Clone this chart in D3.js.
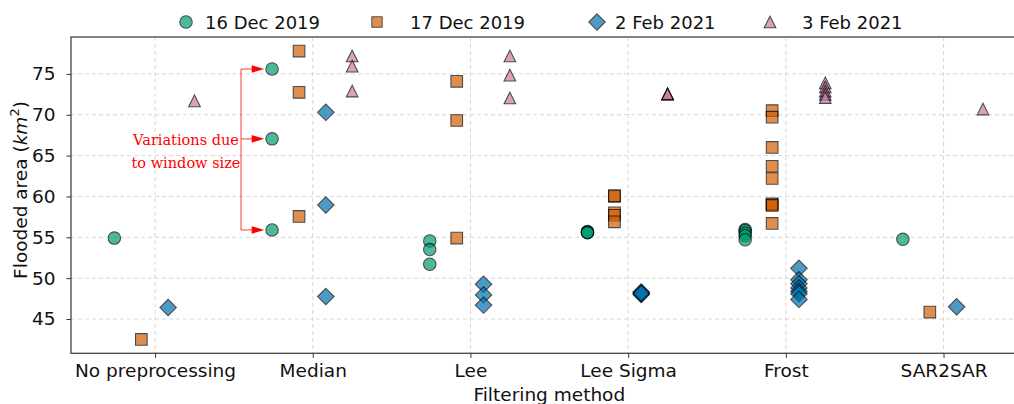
<!DOCTYPE html>
<html>
<head>
<meta charset="utf-8">
<script src="https://cdn.jsdelivr.net/npm/d3@7"></script>
<style>
  html, body { margin: 0; padding: 0; background: #fff; }
  svg { display: block; }
</style>
</head>
<body>
<div id="chart"></div>
<script>
// ---------- data ----------
const categories = ["No preprocessing", "Median", "Lee", "Lee Sigma", "Frost", "SAR2SAR"];
const seriesNames = ["16 Dec 2019", "17 Dec 2019", "2 Feb 2021", "3 Feb 2021"];
const seriesColors = ["#009E73", "#D55E00", "#0072B2", "#CC79A7"];
const seriesShapes = ["circle", "square", "diamond", "triangle"];
const seriesOffsets = [-0.258, -0.087, 0.083, 0.25];

// values per category (one array per category)
const dec16 = [
  [54.9],
  [75.6, 67.05, 55.9],
  [54.55, 53.5, 51.7],
  [55.6, 55.7, 55.65, 55.55],
  [55.95, 55.8, 55.5, 55.2, 54.7],
  [54.75]
];
const dec17 = [
  [42.5],
  [77.8, 72.75, 57.55],
  [74.1, 69.3, 54.9],
  [60.0, 60.1, 58.0, 57.7, 56.9],
  [70.5, 69.7, 66.0, 63.7, 62.2, 59.0, 59.1, 58.9, 56.7],
  [45.85]
];
const feb2 = [
  [46.4],
  [70.3, 58.95, 47.75],
  [49.25, 47.95, 46.7],
  [48.0, 48.2, 48.3, 48.1],
  [51.2, 49.8, 49.3, 48.8, 48.4, 48.1, 47.4],
  [46.5]
];
const feb3 = [
  [71.7],
  [77.2, 75.95, 72.9],
  [77.2, 74.85, 72.05],
  [72.5, 72.6, 72.55],
  [73.9, 73.4, 72.9, 72.5, 72.1],
  [70.7]
];
const seriesValues = [dec16, dec17, feb2, feb3];
const yTicks = [45, 50, 55, 60, 65, 70, 75];
const annotationLines = ["Variations due", "to window size"];

// ---------- layout ----------
const W = 1014, H = 404;
const plotLeft = 71, plotTop = 37, plotBottom = 353.3, plotRight = 1027.6;
const FS = 18.5;
const SANS = "'DejaVu Sans', sans-serif";

const svg = d3.select("#chart").append("svg")
  .attr("width", W).attr("height", H)
  .attr("viewBox", `0 0 ${W} ${H}`);

const x = d3.scaleLinear().domain([-0.533, 5.533]).range([plotLeft, plotRight]);
const y = d3.scaleLinear().domain([40.8, 79.52]).range([plotBottom, plotTop]);

// grid
const grid = svg.append("g");
grid.selectAll("line.gx").data(d3.range(categories.length)).join("line")
  .attr("x1", d => x(d)).attr("x2", d => x(d))
  .attr("y1", plotTop).attr("y2", plotBottom)
  .attr("stroke", "#d3d3d3").attr("stroke-width", 0.9).attr("stroke-dasharray", "4,3");
grid.selectAll("line.gy").data(yTicks).join("line")
  .attr("x1", plotLeft).attr("x2", W)
  .attr("y1", d => y(d)).attr("y2", d => y(d))
  .attr("stroke", "#d3d3d3").attr("stroke-width", 0.9).attr("stroke-dasharray", "4,3");

// axes
const xAxis = d3.axisBottom(x).tickValues(d3.range(categories.length))
  .tickFormat(i => categories[i]).tickSize(4.5).tickPadding(6).tickSizeOuter(0);
const gx = svg.append("g").attr("transform", `translate(0,${plotBottom})`).call(xAxis);
const yAxis = d3.axisLeft(y).tickValues(yTicks).tickSize(4.5).tickPadding(11).tickSizeOuter(0);
const gy = svg.append("g").attr("transform", `translate(${plotLeft},0)`).call(yAxis);
[gx, gy].forEach(g => {
  g.attr("font-size", null).attr("font-family", null);
  g.select(".domain").remove();
  g.selectAll(".tick line").attr("stroke", "#333").attr("stroke-width", 1);
  g.selectAll(".tick text").style("font-size", FS + "px").attr("fill", "#111")
    .style("font-family", SANS);
});

// frame (spines)
svg.append("rect")
  .attr("x", plotLeft).attr("y", plotTop)
  .attr("width", plotRight - plotLeft).attr("height", plotBottom - plotTop)
  .attr("fill", "none").attr("stroke", "#444").attr("stroke-width", 1.3);

// axis titles
svg.append("text").attr("x", x(2.5)).attr("y", 401)
  .attr("text-anchor", "middle").style("font-size", FS + "px").style("font-family", SANS)
  .attr("fill", "#111").text("Filtering method");

const yl = svg.append("text")
  .attr("transform", `translate(27,${190}) rotate(-90)`)
  .attr("text-anchor", "middle").style("font-size", FS + "px").style("font-family", SANS)
  .attr("fill", "#111");
yl.append("tspan").text("Flooded area (");
yl.append("tspan").attr("font-style", "italic").text("km");
yl.append("tspan").style("font-size", "13px").attr("dy", -8).text("2");
yl.append("tspan").attr("dy", 8).text(")");

// marker paths
function markerPath(shape) {
  if (shape === "circle") return d3.symbol(d3.symbolCircle, Math.PI * 6.2 * 6.2)();
  if (shape === "square") { const s = 5.8; return `M${-s},${-s}H${s}V${s}H${-s}Z`; }
  if (shape === "diamond") { const s = 8.2; return `M0,${-s}L${s},0L0,${s}L${-s},0Z`; }
  const h = 5.8; return `M0,${-h}L${h},${h}L${-h},${h}Z`;
}

// points
const pts = [];
seriesValues.forEach((arr, si) => {
  arr.forEach((vals, ci) => {
    vals.forEach(v => pts.push({ si, ci, v }));
  });
});
const plot = svg.append("g");
plot.selectAll("path.pt").data(pts).join("path")
  .attr("class", "pt")
  .attr("d", d => markerPath(seriesShapes[d.si]))
  .attr("transform", d => `translate(${x(d.ci + seriesOffsets[d.si])},${y(d.v)})`)
  .attr("fill", d => seriesColors[d.si])
  .attr("stroke", "#000").attr("stroke-width", 1.1)
  .attr("opacity", 0.7);

// annotation
const ann = svg.append("g");
const medianCircles = dec16[1];
const bx = x(1 - 0.455), tipX = x(1 - 0.308);
ann.append("line")
  .attr("x1", bx).attr("x2", bx)
  .attr("y1", y(d3.max(medianCircles))).attr("y2", y(d3.min(medianCircles)))
  .attr("stroke", "red").attr("stroke-opacity", 0.6).attr("stroke-width", 1.3);
medianCircles.forEach(v => {
  const yy = y(v);
  ann.append("line").attr("x1", bx).attr("x2", tipX - 10).attr("y1", yy).attr("y2", yy)
    .attr("stroke", "red").attr("stroke-opacity", 0.6).attr("stroke-width", 1.3);
  ann.append("path")
    .attr("d", `M${tipX},${yy}L${tipX - 12.5},${yy - 3.8}L${tipX - 12.5},${yy + 3.8}Z`)
    .attr("fill", "red");
});
const at = ann.append("text").attr("text-anchor", "middle")
  .style("font-family", "'DejaVu Serif', serif").style("font-size", "14.5px").attr("fill", "red");
annotationLines.forEach((t, i) => {
  at.append("tspan").attr("x", 186).attr("y", 145 + i * 23).text(t);
});

// legend
const legendX = [186, 377, 597, 770];
const legendTextX = [205, 410, 615, 802];
const legend = svg.append("g");
seriesNames.forEach((name, i) => {
  const g = legend.append("g").attr("transform", `translate(${legendX[i]},22)`);
  g.append("path").attr("d", markerPath(seriesShapes[i]))
    .attr("fill", seriesColors[i]).attr("stroke", "#000").attr("stroke-width", 1.1)
    .attr("opacity", 0.7)
    .attr("transform", i === 1 ? "scale(0.9)" : null);
  g.append("text").attr("x", legendTextX[i] - legendX[i]).attr("y", 6.5)
    .style("font-size", "18px").style("font-family", SANS).attr("fill", "#111").text(name);
});
</script>
</body>
</html>
